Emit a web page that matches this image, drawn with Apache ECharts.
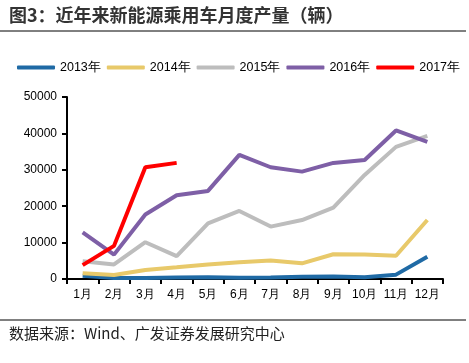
<!DOCTYPE html>
<html><head><meta charset="utf-8">
<script src="https://cdn.jsdelivr.net/npm/echarts@6/dist/echarts.min.js"></script>
<style>html,body{margin:0;padding:0;background:#fff}#c{width:469px;height:363px}</style>
</head><body><div id="c"></div>
<script>
const months = ['1月','2月','3月','4月','5月','6月','7月','8月','9月','10月','11月','12月'];
const s2013 = [900, 250, 300, 400, 500, 350, 400, 600, 700, 500, 1200, 6100];
const s2014 = [1550, 1100, 2450, 3200, 4000, 4600, 5100, 4300, 6800, 6700, 6400, 16200];
const s2015 = [4900, 4000, 10100, 6300, 15300, 18700, 14400, 16200, 19600, 28600, 36300, 39300];
const s2016 = [12800, 6700, 17700, 23000, 24200, 34100, 30700, 29500, 31900, 32700, 40800, 37700];
const s2017 = [3800, 9100, 30700, 31900];
const seriesNames = ['2013年','2014年','2015年','2016年','2017年'];
const colors = ['#1f6aa5','#e8c96a','#bdbdbd','#7e5fa6','#ff0000'];
const yTicks = [0, 10000, 20000, 30000, 40000, 50000];

const chart = echarts.init(document.getElementById('c'));
const font = 'Liberation Sans, Arial, sans-serif';
const data = [s2013, s2014, s2015, s2016, s2017];
chart.setOption({
  animation: false,
  color: colors,
  textStyle: {fontFamily: font},
  grid: {left: 67, right: 26, top: 97, bottom: 84},
  legend: {
    top: 56, left: 12, width: 465, itemWidth: 38, itemHeight: 4, itemGap: 6,
    icon: 'roundRect',
    textStyle: {fontSize: 12.5, color: '#000', fontFamily: font},
    data: seriesNames
  },
  xAxis: {
    type: 'category', data: months, boundaryGap: true,
    axisLine: {lineStyle: {color: '#000', width: 2}},
    axisTick: {show: true, length: 5, lineStyle: {color: '#000', width: 2}},
    axisLabel: {color: '#000', fontSize: 12, margin: 10, interval: 0, fontFamily: font}
  },
  yAxis: {
    type: 'value', min: yTicks[0], max: yTicks[yTicks.length-1], interval: 10000,
    axisLine: {show: true, lineStyle: {color: '#000', width: 2}},
    axisTick: {show: true, length: 5, lineStyle: {color: '#000', width: 2}},
    axisLabel: {color: '#000', fontSize: 12, margin: 10, fontFamily: font, formatter: v => String(v)},
    splitLine: {show: false}
  },
  series: data.map((d, i) => ({
    name: seriesNames[i], type: 'line', data: d, symbol: 'none',
    lineStyle: {width: 4, color: colors[i]}, z: 2 + (i === 4 ? 3 : (i === 3 ? 2 : 0))
  })),
  graphic: [
    {type: 'text', left: 9, top: 6, style: {text: '图3：近年来新能源乘用车月度产量（辆）', font: 'bold 18px "Noto Sans CJK SC", sans-serif', fill: '#333'}},
    {type: 'line', shape: {x1: 0, y1: 31, x2: 466, y2: 31}, style: {stroke: '#000', lineWidth: 1}},
    {type: 'line', shape: {x1: 0, y1: 320, x2: 466, y2: 320}, style: {stroke: '#000', lineWidth: 1}},
    {type: 'text', left: 9, top: 326, style: {text: '数据来源：Wind、广发证券发展研究中心', font: '15px "Noto Sans CJK SC", sans-serif', fill: '#222'}}
  ]
});
</script></body></html>
